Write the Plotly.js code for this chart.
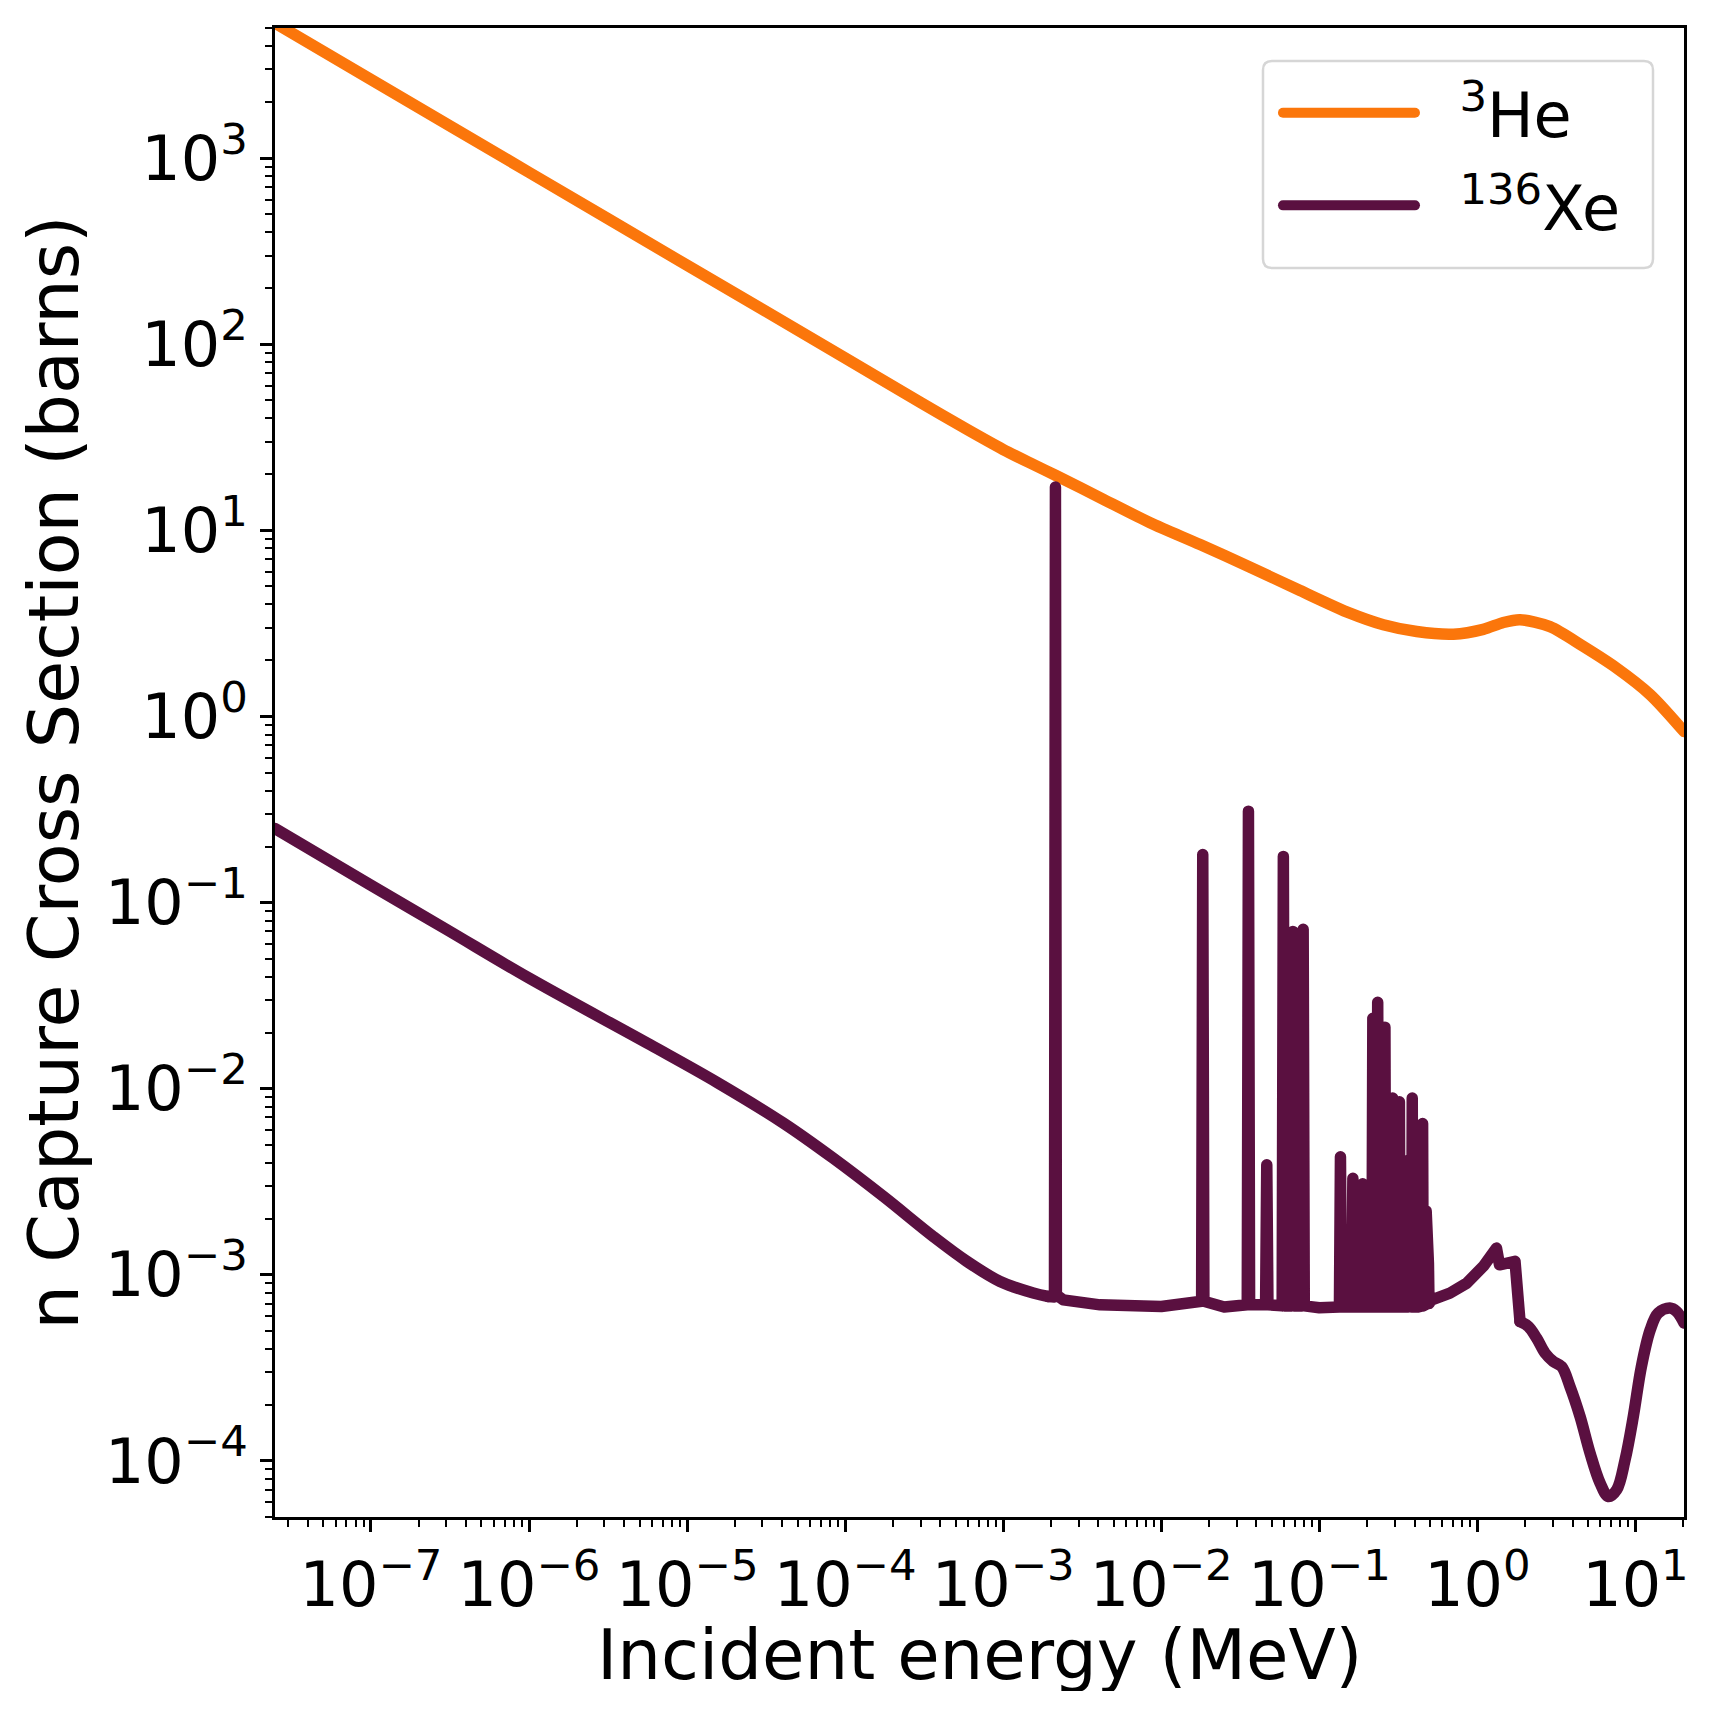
<!DOCTYPE html>
<html>
<head>
<meta charset="utf-8">
<script src="https://cdn.plot.ly/plotly-3.0.1.min.js"></script>
<style>
  html, body { margin: 0; padding: 0; background: #fff; }
  #chart { width: 1714px; height: 1711px; }
  .js-line { stroke-linejoin: round !important; stroke-linecap: round !important; }
</style>
</head>
<body>
<div id="chart"></div>
<script>
// 3He (n,p) cross section
const he3Energy = [2.47e-8, 1e-7, 1e-6, 1e-5, 1e-4, 3e-4, 6e-4, 1e-3, 1.5e-3, 2.14e-3, 4.3e-3, 8.5e-3, 1.76e-2,
  3.65e-2, 7.55e-2, 0.156, 0.254, 0.413, 0.705, 1.09, 1.46, 1.86, 2.88, 4.68, 7.6, 12.4, 20.3];
const he3Sigma = [5330, 2650, 840, 266, 84.5, 48.7, 34.6, 27.2, 22.9, 19.8, 14.7, 11.0, 8.4,
  6.34, 4.75, 3.59, 3.11, 2.86, 2.77, 2.94, 3.2, 3.31, 3.04, 2.38, 1.82, 1.31, 0.83];

// 136Xe capture cross section
// smooth low-energy part
const xeLowEnergy = [2.47e-8, 1e-7, 3e-7, 1e-6, 5.85e-6, 1.55e-5, 4.07e-5, 8.4e-5, 1.75e-4, 3.62e-4,
  5.89e-4, 9.55e-4, 1.55e-3, 1.93e-3];
const xeLowSigma = [0.25, 0.124, 0.0718, 0.0393, 0.0172, 0.0108, 6.53e-3, 4.23e-3, 2.63e-3, 1.6e-3,
  1.18e-3, 9.2e-4, 7.97e-4, 7.64e-4];
// resolved resonance region
const xeResEnergy = [
  1.93e-3, 2.11e-3, 2.14e-3, 2.17e-3, 2.4e-3, 4.1e-3, 1e-2,
  0.018, 0.0183, 0.0186, 0.025,
  0.035, 0.0356, 0.0362,
  0.0457, 0.0465, 0.0473,
  0.0582, 0.0592, 0.0602,
  0.0615, 0.0625, 0.0635,
  0.0669, 0.068, 0.0691,
  0.0715, 0.0725, 0.0735,
  0.0777, 0.079, 0.0803, 0.1,
  0.134, 0.136, 0.138,
  0.16, 0.163, 0.166,
  0.172, 0.175, 0.178,
  0.185, 0.188, 0.191, 0.2,
  0.215, 0.218, 0.221,
  0.231, 0.234, 0.237,
  0.245, 0.248, 0.251,
  0.257, 0.26, 0.263,
  0.272, 0.275, 0.278,
  0.288, 0.291, 0.294,
  0.305, 0.308, 0.311,
  0.318, 0.321, 0.324,
  0.345, 0.348, 0.351,
  0.365, 0.368, 0.371,
  0.384, 0.387, 0.39,
  0.415, 0.418, 0.421,
  0.446, 0.45, 0.454,
  0.47, 0.474, 0.478,
  0.486, 0.49, 0.494,
  0.51, 0.67, 0.855, 1.09, 1.32, 1.38, 1.61, 1.73, 1.86
];
const xeResSigma = [
  7.64e-4, 7.6e-4, 17.1, 7.8e-4, 7.33e-4, 6.89e-4, 6.75e-4,
  7.2e-4, 0.181, 7.2e-4, 6.7e-4,
  6.9e-4, 0.31, 6.9e-4,
  6.9e-4, 3.9e-3, 6.9e-4,
  6.8e-4, 0.177, 6.8e-4,
  6.8e-4, 0.045, 6.8e-4,
  6.8e-4, 0.07, 6.8e-4,
  6.8e-4, 0.03, 6.8e-4,
  6.8e-4, 0.0718, 6.8e-4, 6.65e-4,
  6.7e-4, 4.3e-3, 6.7e-4,
  6.7e-4, 3.3e-3, 6.7e-4,
  6.7e-4, 2.6e-3, 6.7e-4,
  6.7e-4, 3.08e-3, 6.7e-4, 6.7e-4,
  6.7e-4, 0.0239, 6.7e-4,
  6.7e-4, 0.0291, 6.7e-4,
  6.7e-4, 0.012, 6.7e-4,
  6.7e-4, 0.0214, 6.7e-4,
  6.7e-4, 5e-3, 6.7e-4,
  6.7e-4, 8.9e-3, 6.7e-4,
  6.7e-4, 6e-3, 6.7e-4,
  6.7e-4, 8.5e-3, 6.7e-4,
  6.7e-4, 4.1e-3, 6.7e-4,
  6.7e-4, 3e-3, 6.7e-4,
  6.7e-4, 8.9e-3, 6.7e-4,
  6.7e-4, 4e-3, 6.7e-4,
  6.8e-4, 6.5e-3, 6.8e-4,
  6.9e-4, 2.2e-3, 6.9e-4,
  7e-4, 1.15e-3, 7e-4,
  7.3e-4, 7.96e-4, 9e-4, 1.11e-3, 1.39e-3, 1.13e-3, 1.15e-3, 1.18e-3, 5.6e-4
];
// smooth fast-neutron part
const xeHighEnergy = [1.86, 2.1, 2.37, 2.68, 3.02, 3.41, 3.85, 4.46, 5.16, 5.97, 6.73, 7.6, 8.59,
  9.69, 10.9, 12.4, 13.9, 16.5, 18.2, 20.3];
const xeHighSigma = [5.6e-4, 5.27e-4, 4.56e-4, 3.79e-4, 3.42e-4, 3.21e-4, 2.51e-4, 1.73e-4, 1.1e-4, 7.6e-5, 6.43e-5, 6.98e-5, 1.01e-4,
  1.73e-4, 3.21e-4, 5.06e-4, 6.22e-4, 6.62e-4, 6.34e-4, 5.5e-4];

const xTickExp = [-7, -6, -5, -4, -3, -2, -1, 0, 1];
const yTickExp = [-4, -3, -2, -1, 0, 1, 2, 3];

const font = 'DejaVu Sans, sans-serif';
const heColor = '#fb760b';
const xeColor = '#5a1040';
const lineWidth = 11.5;
const nb = '\u00a0';

function decadeLabels(exps) {
  return exps.map(e => '10<sup>' + String(e).replace('-', '\u2212') + '</sup>');
}
function minorVals(lo, hi) {
  const out = [];
  for (let e = lo; e <= hi; e += 1) {
    for (let m = 2; m <= 9; m += 1) out.push(m * Math.pow(10, e));
  }
  return out;
}
// rounded box in paper coords (frame around the legend)
function roundedBox(x0, y0, x1, y1, rx, ry) {
  return `M${x0 + rx},${y0} L${x1 - rx},${y0} Q${x1},${y0} ${x1},${y0 + ry} L${x1},${y1 - ry} ` +
    `Q${x1},${y1} ${x1 - rx},${y1} L${x0 + rx},${y1} Q${x0},${y1} ${x0},${y1 - ry} ` +
    `L${x0},${y0 + ry} Q${x0},${y0} ${x0 + rx},${y0} Z`;
}

const axisCommon = {
  type: 'log',
  showgrid: false,
  zeroline: false,
  showline: true,
  mirror: true,
  linecolor: '#000',
  linewidth: 2.7,
  ticks: 'outside',
  ticklen: 12,
  tickwidth: 2.5,
  tickcolor: '#000',
  tickmode: 'array',
  tickfont: { family: font, size: 62, color: '#000' },
};

Plotly.newPlot('chart', [
  {
    x: he3Energy, y: he3Sigma, name: nb + nb + '<sup>3</sup>He' + nb,
    legendgroup: 'he', type: 'scatter', mode: 'lines',
    line: { color: heColor, width: lineWidth, shape: 'spline', smoothing: 0.8 },
  },
  {
    x: xeLowEnergy, y: xeLowSigma, name: nb + nb + '<sup>136</sup>Xe' + nb,
    legendgroup: 'xe', type: 'scatter', mode: 'lines',
    line: { color: xeColor, width: lineWidth, shape: 'spline', smoothing: 1 },
  },
  {
    x: xeResEnergy, y: xeResSigma, legendgroup: 'xe', showlegend: false,
    type: 'scatter', mode: 'lines',
    line: { color: xeColor, width: lineWidth },
  },
  {
    x: xeHighEnergy, y: xeHighSigma, legendgroup: 'xe', showlegend: false,
    type: 'scatter', mode: 'lines',
    line: { color: xeColor, width: lineWidth, shape: 'spline', smoothing: 1 },
  },
], {
  width: 1714,
  height: 1711,
  paper_bgcolor: '#fff',
  plot_bgcolor: '#fff',
  margin: { l: 275, r: 30, t: 28, b: 194 },
  showlegend: true,
  legend: {
    x: 0.9723, y: 0.9745, xanchor: 'right', yanchor: 'top',
    bgcolor: 'rgba(0,0,0,0)', borderwidth: 0,
    font: { family: font, size: 62, color: '#000' },
    itemwidth: 132,
    indentation: 14,
    tracegroupgap: 9,
    traceorder: 'grouped',
  },
  shapes: [{
    type: 'path', xref: 'paper', yref: 'paper', layer: 'above',
    path: roundedBox(0.7012, 0.8388, 0.978, 0.9778, 0.0064, 0.006),
    line: { color: '#d6d6d6', width: 2.5 }, fillcolor: 'rgba(0,0,0,0)',
  }],
  annotations: [{
    text: 'Incident energy (MeV)', xref: 'paper', yref: 'paper',
    x: 0.5, y: -0.0925, xanchor: 'center', yanchor: 'middle', showarrow: false,
    height: 72, valign: 'middle',
    font: { family: font, size: 69, color: '#000' },
  }],
  xaxis: Object.assign({}, axisCommon, {
    range: [-7.607, 1.307],
    tickvals: xTickExp.map(e => Math.pow(10, e)),
    ticktext: decadeLabels(xTickExp),
    minor: { tickmode: 'array', tickvals: minorVals(-8, 1), ticks: 'outside', ticklen: 7, tickwidth: 2, tickcolor: '#000', showgrid: false },
  }),
  yaxis: Object.assign({}, axisCommon, {
    range: [-4.302, 3.7],
    tickvals: yTickExp.map(e => Math.pow(10, e)),
    ticktext: decadeLabels(yTickExp),
    minor: { tickmode: 'array', tickvals: minorVals(-5, 3), ticks: 'outside', ticklen: 7, tickwidth: 2, tickcolor: '#000', showgrid: false },
    title: { text: 'n Capture Cross Section (barns)', font: { family: font, size: 70, color: '#000' }, standoff: 4 },
  }),
}, { displayModeBar: false });
</script>
</body>
</html>
